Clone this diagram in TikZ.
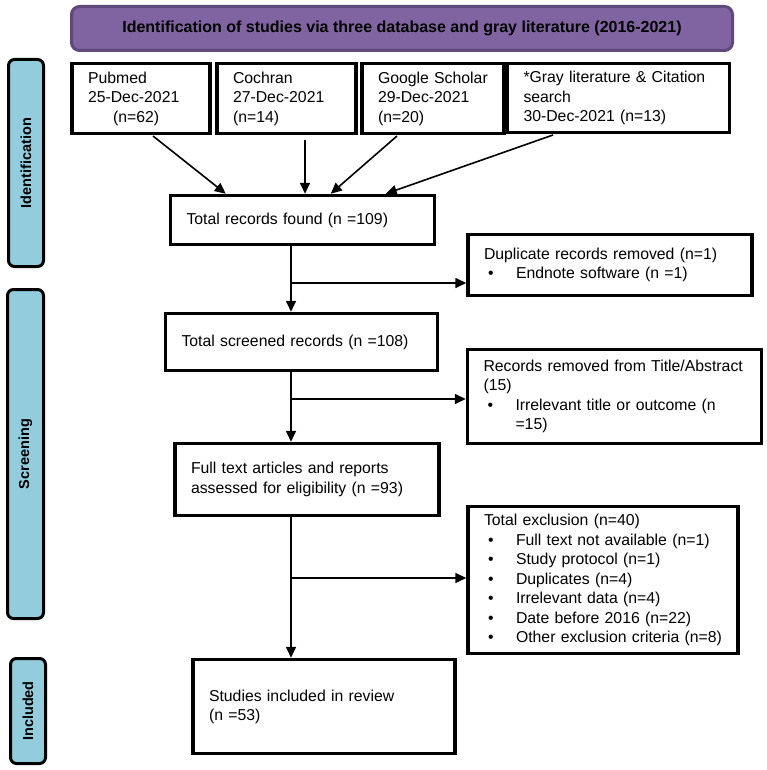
\documentclass[tikz,border=0pt]{standalone}
\usepackage{fontspec}
\setmainfont{Liberation Sans}
\usetikzlibrary{arrows.meta,calc}
\definecolor{hdrfill}{HTML}{8064A2}
\definecolor{hdrline}{HTML}{5F497A}
\definecolor{sidefill}{HTML}{93CDDD}
\newcommand{\bitem}[1]{\makebox[32pt][l]{\hspace{4pt}•}#1}
\tikzset{
  box/.style={draw=black, line width=3.5pt, fill=white, inner xsep=16pt, inner ysep=2pt,
    align=left, font=\fontsize{15.8pt}{19.5pt}\selectfont},
  side/.style={draw=black, line width=3pt, fill=sidefill, rounded corners=6pt, rotate=90,
    inner sep=0pt, font=\fontsize{14.5pt}{16pt}\selectfont\bfseries},
  hdr/.style={draw=hdrline, line width=3pt, fill=hdrfill, rounded corners=8pt,
    font=\fontsize{16pt}{18pt}\selectfont\bfseries},
  arr/.style={-{Triangle[length=11pt,width=10pt]}, line width=1.6pt},
  ln/.style={line width=1.6pt}
}
\begin{document}
\begin{tikzpicture}[x=1pt,y=-1pt]
\useasboundingbox (0,0) rectangle (767,770);
% header
\node[hdr, minimum width=661pt, minimum height=44pt] (head) at (402,28.5)
  {Identification of studies via three database and gray literature (2016-2021)};
% side bars
\node[side, minimum width=207pt, minimum height=35pt] (sid) at (26,163) {Identification};
\node[side, minimum width=329pt, minimum height=36pt] (sscr) at (25.5,454) {Screening};
\node[side, minimum width=105pt, minimum height=35pt] (sinc) at (28,711) {Included};
% source boxes
\node[box, minimum width=135pt, minimum height=70pt, text width=106pt] (pub) at (141,98.5)
  {Pubmed\\25-Dec-2021\\\hspace*{25pt}(n=62)};
\node[box, minimum width=136pt, minimum height=70pt, text width=107pt] (coc) at (286.5,98.5)
  {Cochran\\27-Dec-2021\\(n=14)};
\node[box, minimum width=137pt, minimum height=70pt, text width=110pt] (goo) at (433,98.5)
  {Google Scholar\\29-Dec-2021\\(n=20)};
\node[box, minimum width=218pt, minimum height=69pt, text width=190pt] (gray) at (618.5,98)
  {*Gray literature \& Citation\\search\\30-Dec-2021 (n=13)};
% main column
\node[box, minimum width=262pt, minimum height=49pt, text width=232pt] (tot) at (302.5,220)
  {Total records found (n =109)};
\node[box, minimum width=270pt, minimum height=57pt, text width=240pt] (scr) at (301.5,342)
  {Total screened records (n =108)};
\node[box, minimum width=261pt, minimum height=72pt, text width=232pt] (ful) at (307,479.5)
  {Full text articles and reports\\assessed for eligibility (n =93)};
\node[box, minimum width=259pt, minimum height=94pt, text width=230pt, text depth=22pt] (stu) at (324,706.5)
  {Studies included in review\\(n =53)};
% exclusion boxes
\node[box, minimum width=281pt, minimum height=61pt, text width=252pt] (dup) at (610,265)
  {Duplicate records removed (n=1)\\\bitem{Endnote software (n =1)}};
\node[box, minimum width=290pt, minimum height=94pt, text width=262pt] (rem) at (614.5,396.5)
  {Records removed from Title/Abstract\\(15)\\\bitem{Irrelevant title or outcome (n}\\\hspace*{32pt}=15)};
\node[box, minimum width=267pt, minimum height=147pt, text width=238pt] (exc) at (603,580)
  {Total exclusion (n=40)\\
   \bitem{Full text not available (n=1)}\\
   \bitem{Study protocol (n=1)}\\
   \bitem{Duplicates (n=4)}\\
   \bitem{Irrelevant data (n=4)}\\
   \bitem{Date before 2016 (n=22)}\\
   \bitem{Other exclusion criteria (n=8)}};
% arrows from sources
\coordinate (p1) at (153,136);
\coordinate (p2) at (305,140);
\coordinate (p3) at (397,136);
\coordinate (p4) at (553,135);
\draw[arr] (p1) -- ($(tot.north west)+(57,0)$);
\draw[arr] (p2) -- (p2 |- tot.north);
\draw[arr] (p3) -- ($(tot.north west)+(162,0)$);
\draw[arr] (p4) -- ($(tot.north west)+(217,0)$);
% main flow
\coordinate (b1) at (291,283);
\coordinate (b2) at (291,399);
\coordinate (b3) at (291,578);
\draw[arr] (tot.south -| b1) -- (scr.north -| b1);
\draw[arr] (b1) -- (b1 -| dup.west);
\draw[arr] (scr.south -| b2) -- (ful.north -| b2);
\draw[arr] (b2) -- (b2 -| rem.west);
\draw[arr] (ful.south -| b3) -- (stu.north -| b3);
\draw[arr] (b3) -- (b3 -| exc.west);
\end{tikzpicture}
\end{document}
